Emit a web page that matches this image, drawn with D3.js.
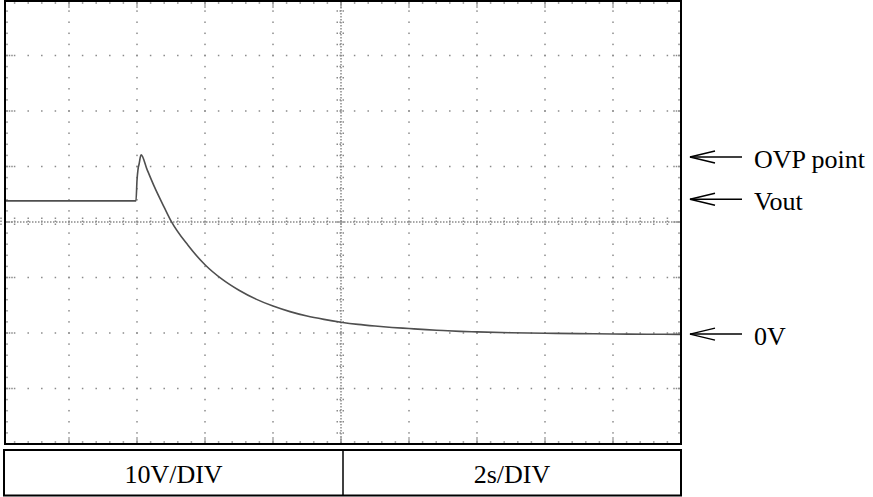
<!DOCTYPE html>
<html><head><meta charset="utf-8">
<script src="https://cdn.jsdelivr.net/npm/d3@7/dist/d3.min.js"></script>
<style>html,body{margin:0;padding:0;background:#fff;}svg{display:block;}</style>
</head><body><svg id="c" width="873" height="497"></svg>
<script>
// time (s) of trace samples
const timeS = [0.12, 3.97, 4.00, 4.03, 4.06, 4.12, 4.3, 4.5, 4.82, 5.0, 5.5, 6.0, 6.5, 7.0, 7.5, 8.0, 8.5, 9.0, 9.5, 10.0, 10.5, 11.0, 11.5, 12.0, 12.5, 13.0, 13.5, 14.0, 15.0, 16.0, 17.0, 18.0, 19.0, 20.0];
// voltage (V) of trace samples
const voltV = [23.8, 23.8, 27.5, 29.5, 30.4, 32.1, 29.4, 26.5, 22.4, 20.2, 15.8, 12.3, 9.7, 7.7, 6.1, 4.85, 3.85, 3.05, 2.45, 1.95, 1.55, 1.25, 1.0, 0.8, 0.6, 0.45, 0.3, 0.2, 0.05, -0.05, -0.12, -0.18, -0.22, -0.25];
const markerLabels = ["OVP point", "Vout", "0V"];
const markerVolts = [31.7, 24.1, -0.2];
const scaleLabels = ["10V/DIV", "2s/DIV"];

const svg = d3.select("#c");
const x = d3.scaleLinear().domain([0, 20]).range([1, 681]);
const y = d3.scaleLinear().domain([60, -20]).range([0, 444]);
const L = 5, R = 681, T = 1, B = 444;
const grid = svg.append("g");
const dotC = "#8a8a8a";

function dot(cx, cy) {
  grid.append("rect").attr("x", cx - 0.75).attr("y", cy - 0.75).attr("width", 1.5).attr("height", 1.5).attr("fill", dotC);
}
const majT = d3.range(2, 20, 2);       // vertical gridlines
const majV = d3.range(-10, 60, 10);    // horizontal gridlines
const minT = d3.range(0, 20.01, 0.4);
const minV = d3.range(-20, 60.01, 2);

majT.forEach(t => { if (t === 10) return; minV.forEach(v => { const yy = y(v); if (yy > T + 3 && yy < B - 3) dot(x(t), yy); }); });
majV.forEach(v => { if (v === 20) return; minT.forEach(t => { const xx = x(t); if (xx > L + 3 && xx < R - 3) dot(xx, y(v)); }); });
minV.forEach(v => { const yy = y(v); if (yy > T + 3 && yy < B - 3) { dot(L + 2, yy); dot(R - 2, yy); } });
minT.forEach(t => { const xx = x(t); if (xx > L + 3 && xx < R - 3) { dot(xx, T + 2); dot(xx, B - 2); } });
majV.forEach(v => { const yy = y(v); [L + 2, L + 4.5, L + 7, R - 2, R - 4.5, R - 7].forEach(xx => dot(xx, yy)); });
majT.forEach(t => { const xx = x(t); [T + 2, T + 4, T + 6, B - 2, B - 4, B - 6].forEach(yy => dot(xx, yy)); });

const cx = x(10), cy = y(20);
grid.append("line").attr("x1", L).attr("x2", R).attr("y1", cy).attr("y2", cy).attr("stroke", dotC).attr("stroke-width", 1.5).attr("stroke-dasharray", "1.5,1.5");
grid.append("line").attr("x1", cx).attr("x2", cx).attr("y1", T).attr("y2", B).attr("stroke", dotC).attr("stroke-width", 1.5).attr("stroke-dasharray", "1.5,1.5");
minT.forEach(t => { const xx = x(t); grid.append("line").attr("x1", xx).attr("x2", xx).attr("y1", cy - 4.5).attr("y2", cy + 4.5).attr("stroke", dotC).attr("stroke-width", 1.5).attr("stroke-dasharray", "1.5,1.5"); });
minV.forEach(v => { const yy = y(v); grid.append("line").attr("y1", yy).attr("y2", yy).attr("x1", cx - 4.5).attr("x2", cx + 4.5).attr("stroke", dotC).attr("stroke-width", 1.5).attr("stroke-dasharray", "1.5,1.5"); });

const pts = timeS.map((t, i) => [t, voltV[i]]);
svg.append("path").datum(pts)
  .attr("d", d3.line().x(d => x(d[0])).y(d => y(d[1])).curve(d3.curveMonotoneX))
  .attr("fill", "none").attr("stroke", "#4f4f4f").attr("stroke-width", 1.6);

svg.append("rect").attr("x", L).attr("y", T).attr("width", R - L).attr("height", B - T)
  .attr("fill", "none").attr("stroke", "#000").attr("stroke-width", 2);

const bx0 = 4, bx1 = 681, by0 = 450, by1 = 495.5, mid = 343;
svg.append("rect").attr("x", bx0).attr("y", by0).attr("width", bx1 - bx0).attr("height", by1 - by0)
  .attr("fill", "none").attr("stroke", "#000").attr("stroke-width", 2);
svg.append("line").attr("x1", mid).attr("x2", mid).attr("y1", by0).attr("y2", by1).attr("stroke", "#000").attr("stroke-width", 1.5);
const cells = [[bx0, mid], [mid, bx1]];
scaleLabels.forEach((s, i) => {
  svg.append("text").attr("x", (cells[i][0] + cells[i][1]) / 2).attr("y", 483)
    .attr("text-anchor", "middle").attr("font-family", "Liberation Serif, Times New Roman, serif")
    .attr("font-size", 26).attr("fill", "#000").text(s);
});

markerLabels.forEach((s, i) => {
  const yy = y(markerVolts[i]);
  const g = svg.append("g");
  g.append("line").attr("x1", 690).attr("x2", 742).attr("y1", yy).attr("y2", yy).attr("stroke", "#000").attr("stroke-width", 1.5);
  g.append("path").attr("d", `M715,${yy - 6}L690,${yy}L715,${yy + 6}`).attr("fill", "none").attr("stroke", "#000").attr("stroke-width", 1.5);
  g.append("text").attr("x", 754).attr("y", yy + 11).attr("font-family", "Liberation Serif, Times New Roman, serif")
    .attr("font-size", 26).attr("fill", "#000").text(s);
});
</script></body></html>
